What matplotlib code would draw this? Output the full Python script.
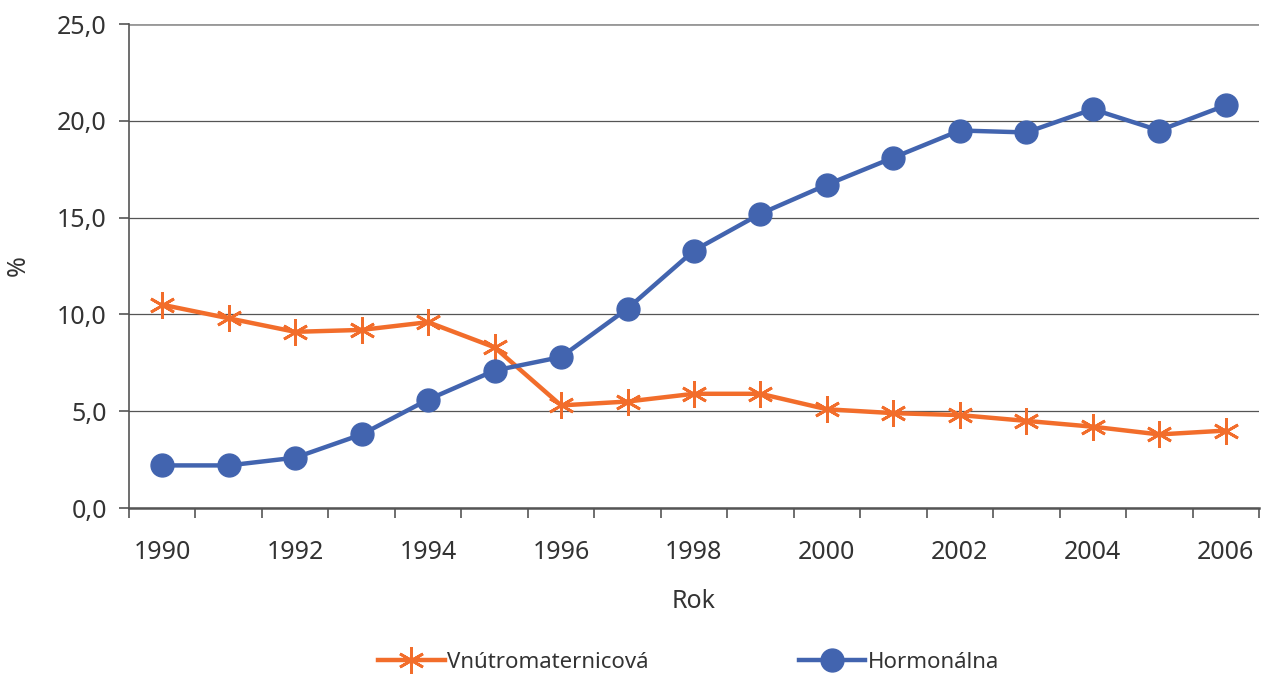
import matplotlib
matplotlib.use('Agg')
import matplotlib.pyplot as plt
from matplotlib.ticker import FixedLocator, FuncFormatter

plt.rcParams['font.family'] = ['Noto Sans', 'DejaVu Sans']

years = list(range(1990, 2007))
iud = [10.5, 9.8, 9.1, 9.2, 9.6, 8.3, 5.3, 5.5, 5.9, 5.9, 5.1, 4.9, 4.8, 4.5, 4.2, 3.8, 4.0]
hormonal = [2.2, 2.2, 2.6, 3.8, 5.6, 7.1, 7.8, 10.3, 13.3, 15.2, 16.7, 18.1, 19.5, 19.4, 20.6, 19.5, 20.8]
labels = ['Vnútromaternicová', 'Hormonálna']

orange = '#F26D2B'
blue = '#4264AF'
txt = '#333333'
fs = 18

fig = plt.figure(figsize=(12.62, 6.75), dpi=100)
ax = fig.add_axes([0.1022, 0.2474, 0.8954, 0.717])

x = list(range(len(years)))
ax.plot(x, iud, color=orange, lw=3.2, marker=(6, 2, 0), ms=19, mew=2.0,
        mec=orange, label=labels[0], zorder=3)
ax.plot(x, hormonal, color=blue, lw=3.2, marker='o', ms=16.5, mfc=blue,
        mec=blue, label=labels[1], zorder=3)

ax.set_xlim(-0.5, len(years) - 0.5)
ax.set_ylim(0, 25)

ax.yaxis.set_major_locator(FixedLocator([0, 5, 10, 15, 20, 25]))
ax.yaxis.set_major_formatter(FuncFormatter(lambda v, p: f'{v:.1f}'.replace('.', ',')))
ax.yaxis.grid(True, color='#555555', lw=0.9)
ax.set_axisbelow(True)

ax.set_xticks(x[::2])
ax.set_xticklabels([str(y) for y in years[::2]])
ax.set_xticks([i - 0.5 for i in range(len(years) + 1)], minor=True)
ax.tick_params(axis='x', which='major', length=0, pad=23, labelsize=fs, labelcolor=txt)
ax.tick_params(axis='x', which='minor', length=7, width=1.2, color='#555555')
ax.tick_params(axis='y', length=7, width=1.2, color='#555555', pad=9,
               labelsize=fs, labelcolor=txt)

for s in ['top', 'right']:
    ax.spines[s].set_visible(False)
ax.spines['left'].set_color('#555555')
ax.spines['left'].set_linewidth(1.2)
ax.spines['bottom'].set_color('#555555')
ax.spines['bottom'].set_linewidth(1.8)
ax.axhline(25, color='#999999', lw=2.0, zorder=1)

ax.set_xlabel('Rok', fontsize=fs, color=txt, labelpad=17)
ax.set_ylabel('%', fontsize=fs, color=txt)
ax.yaxis.set_label_coords(-0.0867, 0.5)

fig.legend(loc='center', bbox_to_anchor=(0.5455, 0.019), ncol=2, frameon=False,
           fontsize=16, handlelength=3.0, columnspacing=6.75, handletextpad=0.1,
           labelcolor=txt)

fig.savefig('out.png', dpi=100)
